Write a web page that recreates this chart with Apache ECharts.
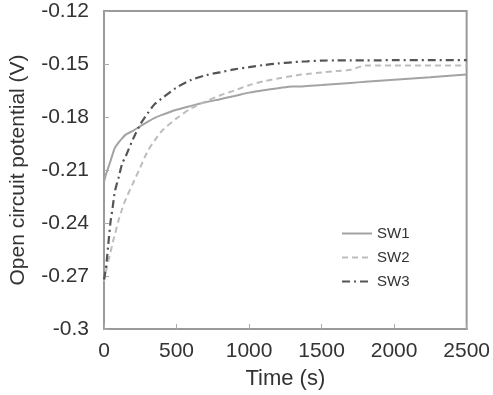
<!DOCTYPE html>
<html>
<head>
<meta charset="utf-8">
<script src="https://cdn.jsdelivr.net/npm/echarts@6/dist/echarts.min.js"></script>
<style>html,body{margin:0;padding:0;background:#fff;}#chart{width:493px;height:395px;}</style>
</head>
<body>
<div id="chart"></div>
<script>
const timeSec = [0, 10, 20, 30, 45, 60, 75, 100, 125, 150, 200, 250, 300, 350, 400, 500, 600, 700, 800, 900, 1000, 1100, 1200, 1300, 1350, 1400, 1500, 1600, 1700, 1800, 1900, 2000, 2250, 2500];
const sw1 = [-0.217, -0.2135, -0.211, -0.2085, -0.2048, -0.201, -0.1975, -0.1945, -0.1921, -0.1900, -0.1878, -0.1853, -0.1828, -0.1805, -0.1788, -0.1759, -0.1737, -0.1717, -0.1699, -0.1681, -0.1662, -0.1648, -0.1637, -0.1627, -0.1628, -0.1624, -0.1619, -0.1613, -0.1607, -0.1601, -0.1595, -0.1589, -0.1575, -0.1560];
const sw2 = [-0.273, -0.269, -0.265, -0.2615, -0.2565, -0.2512, -0.2465, -0.2386, -0.2321, -0.2265, -0.2175, -0.2085, -0.1995, -0.1932, -0.1878, -0.1808, -0.1752, -0.1712, -0.1678, -0.1650, -0.1620, -0.1598, -0.1582, -0.1568, -0.1561, -0.1557, -0.1548, -0.1540, -0.1533, -0.1509, -0.1508, -0.1508, -0.1509, -0.1509];
const sw3 = [-0.272, -0.2674, -0.2605, -0.2518, -0.2394, -0.2310, -0.2222, -0.2145, -0.2065, -0.2022, -0.1925, -0.1842, -0.1780, -0.1727, -0.1694, -0.1633, -0.1591, -0.1564, -0.1547, -0.1530, -0.1518, -0.1506, -0.1497, -0.1490, -0.1487, -0.1485, -0.1481, -0.1480, -0.1480, -0.1479, -0.1479, -0.1478, -0.1478, -0.1478];
const seriesNames = ['SW1', 'SW2', 'SW3'];
const xTicks = [0, 500, 1000, 1500, 2000, 2500];
const yTicks = [-0.3, -0.27, -0.24, -0.21, -0.18, -0.15, -0.12];

const pair = (vals) => timeSec.map((t, i) => [t, vals[i]]);
const font = 'Liberation Sans, Arial, sans-serif';
const chart = echarts.init(document.getElementById('chart'));
chart.setOption({
  animation: false,
  backgroundColor: '#fff',
  grid: { left: 94, top: 11, right: 26, bottom: 64, show: true, borderColor: '#9a9a9a', borderWidth: 2, containLabel: false },
  legend: {
    orient: 'vertical', left: 336, top: 221, itemWidth: 30, itemHeight: 14, itemGap: 9,
    textStyle: { fontFamily: font, fontSize: 15, color: '#333' },
    itemStyle: { opacity: 0 },
    data: seriesNames
  },
  xAxis: {
    type: 'value', min: xTicks[0], max: xTicks[xTicks.length - 1], interval: 500,
    name: 'Time (s)', nameLocation: 'middle', nameGap: 39,
    nameTextStyle: { fontFamily: font, fontSize: 22, color: '#333' },
    axisLine: { show: true, lineStyle: { color: '#9a9a9a', width: 2 } },
    axisTick: { show: true, inside: true, length: 5, lineStyle: { color: '#aaa' } },
    axisLabel: { fontFamily: font, fontSize: 21, color: '#333', margin: 12, formatter: v => String(v) },
    splitLine: { show: false }
  },
  yAxis: {
    type: 'value', min: yTicks[0], max: yTicks[yTicks.length - 1], interval: 0.03,
    name: 'Open circuit potential (V)', nameLocation: 'middle', nameGap: 75, nameRotate: 90,
    nameMoveOverlap: false,
    nameTextStyle: { fontFamily: font, fontSize: 21, color: '#333', width: 300, overflow: 'none' },
    axisLine: { show: true, lineStyle: { color: '#9a9a9a', width: 2 } },
    axisTick: { show: true, inside: true, length: 5, lineStyle: { color: '#aaa' } },
    axisLabel: { fontFamily: font, fontSize: 21, color: '#333', margin: 15, formatter: v => String(Number(v.toFixed(2))) },
    splitLine: { show: false }
  },
  series: [
    { name: seriesNames[0], type: 'line', data: pair(sw1), showSymbol: false, symbol: 'none', smooth: 0.3,
      lineStyle: { color: '#a3a3a3', width: 2, type: 'solid' }, itemStyle: { color: '#a3a3a3' } },
    { name: seriesNames[1], type: 'line', data: pair(sw2), showSymbol: false, symbol: 'none', smooth: 0.3,
      lineStyle: { color: '#bdbdbd', width: 2, type: [6, 4] }, itemStyle: { color: '#bdbdbd' } },
    { name: seriesNames[2], type: 'line', data: pair(sw3), showSymbol: false, symbol: 'none', smooth: 0.3,
      lineStyle: { color: '#555', width: 2.2, type: [8, 4, 2, 4] }, itemStyle: { color: '#555' } }
  ]
});
</script>
</body>
</html>
